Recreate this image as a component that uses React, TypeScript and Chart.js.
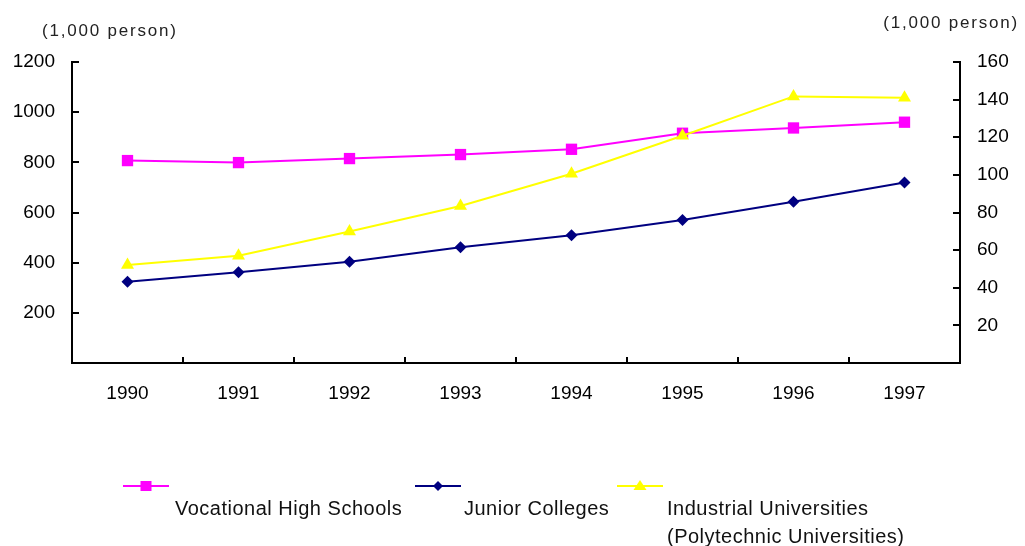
import React, { useEffect, useRef } from 'react';
import { Chart, registerables } from 'chart.js';

Chart.register(...registerables);

// ---- data ----
const years = ['1990', '1991', '1992', '1993', '1994', '1995', '1996', '1997'];
const vocational = [807, 799, 815, 831, 852, 916, 937, 960];
const junior = [324, 362, 404, 461, 509, 570, 643, 720];
const industrial = [52.1, 57.0, 69.9, 83.5, 100.6, 120.8, 141.7, 141.0];

const leftMax = 1200;
const leftStep = 200;
const rightMax = 160;
const rightStep = 20;
const unitLabel = '(1,000 person)';
const seriesLabels = [
  ['Vocational High Schools'],
  ['Junior Colleges'],
  ['Industrial Universities', '(Polytechnic Universities)'],
];

const FONT = "'Liberation Sans', Arial, Helvetica, sans-serif";
const MAGENTA = '#FF00FF';
const NAVY = '#000080';
const YELLOW = '#FFFF00';

type MarkerKind = 'square' | 'diamond' | 'triangle';

function drawMarker(ctx: CanvasRenderingContext2D, kind: MarkerKind, x: number, y: number, color: string) {
  ctx.save();
  ctx.fillStyle = color;
  ctx.beginPath();
  if (kind === 'square') {
    ctx.rect(x - 5.5, y - 5, 11, 10);
  } else if (kind === 'diamond') {
    ctx.moveTo(x, y - 5);
    ctx.lineTo(x + 5, y);
    ctx.lineTo(x, y + 5);
    ctx.lineTo(x - 5, y);
    ctx.closePath();
  } else {
    ctx.moveTo(x, y - 6);
    ctx.lineTo(x + 6.5, y + 4);
    ctx.lineTo(x - 6.5, y + 4);
    ctx.closePath();
  }
  ctx.fill();
  ctx.restore();
}

const legendLayout = [
  { x0: 123, x1: 169, y: 486, tx: 175, ty: 509, kind: 'square' as MarkerKind },
  { x0: 415, x1: 461, y: 486, tx: 464, ty: 509, kind: 'diamond' as MarkerKind },
  { x0: 617, x1: 663, y: 486, tx: 667, ty: 509, kind: 'triangle' as MarkerKind },
];

const framePlugin = {
  id: 'frameInward',
  afterDraw(chart: any) {
    const ctx: CanvasRenderingContext2D = chart.ctx;
    const { left, right, top, bottom } = chart.chartArea;
    const x = chart.scales.x;
    const y = chart.scales.y;
    const y1 = chart.scales.y1;
    ctx.save();
    ctx.strokeStyle = '#000';
    ctx.lineWidth = 2;
    ctx.lineCap = 'square';
    ctx.beginPath();
    ctx.moveTo(left, top);
    ctx.lineTo(left, bottom);
    ctx.lineTo(right, bottom);
    ctx.lineTo(right, top);
    ctx.stroke();
    ctx.lineCap = 'butt';
    ctx.beginPath();
    y.ticks.forEach((t: any) => {
      if (t.value === 0) return;
      const py = Math.round(y.getPixelForValue(t.value));
      ctx.moveTo(left, py);
      ctx.lineTo(left + 7, py);
    });
    y1.ticks.forEach((t: any) => {
      if (t.value === 0) return;
      const py = Math.round(y1.getPixelForValue(t.value));
      ctx.moveTo(right - 7, py);
      ctx.lineTo(right, py);
    });
    for (let i = 1; i < years.length; i++) {
      const px = Math.round((x.getPixelForValue(i - 1) + x.getPixelForValue(i)) / 2);
      ctx.moveTo(px, bottom);
      ctx.lineTo(px, bottom - 6);
    }
    ctx.stroke();

    // unit labels
    ctx.fillStyle = '#222';
    ctx.font = `17px ${FONT}`;
    (ctx as any).letterSpacing = '1.8px';
    ctx.textBaseline = 'middle';
    ctx.textAlign = 'left';
    ctx.fillText(unitLabel, 42, 31);
    ctx.textAlign = 'right';
    ctx.fillText(unitLabel, 1019, 23);
    (ctx as any).letterSpacing = '0px';

    // legend
    const ds = chart.data.datasets;
    legendLayout.forEach((L, i) => {
      const d = ds[i];
      ctx.strokeStyle = d.borderColor;
      ctx.lineWidth = 2;
      ctx.beginPath();
      ctx.moveTo(L.x0, L.y);
      ctx.lineTo(L.x1, L.y);
      ctx.stroke();
      drawMarker(ctx, L.kind, (L.x0 + L.x1) / 2, L.y, d.backgroundColor);
      ctx.fillStyle = '#111';
      ctx.font = `20px ${FONT}`;
      (ctx as any).letterSpacing = '0.5px';
      ctx.textAlign = 'left';
      ctx.textBaseline = 'middle';
      const lines: string[] = Array.isArray(d.label) ? d.label : [d.label];
      lines.forEach((ln, k) => ctx.fillText(ln, L.tx, L.ty + k * 28));
      (ctx as any).letterSpacing = '0px';
    });
    ctx.restore();
  },
};

export default function App() {
  const ref = useRef<HTMLCanvasElement | null>(null);
  useEffect(() => {
    document.body.style.margin = '0';
    const canvas = ref.current!;
    const chart = new Chart(canvas, {
      type: 'line',
      data: {
        labels: years,
        datasets: [
          {
            label: seriesLabels[0] as any,
            data: vocational,
            yAxisID: 'y',
            borderColor: MAGENTA,
            backgroundColor: MAGENTA,
            borderWidth: 2,
            pointStyle: 'rect',
            pointRadius: 8,
            pointBorderWidth: 0,
            tension: 0,
            order: 1,
          },
          {
            label: seriesLabels[1] as any,
            data: junior,
            yAxisID: 'y',
            borderColor: NAVY,
            backgroundColor: NAVY,
            borderWidth: 2,
            pointStyle: 'rectRot',
            pointRadius: 6,
            pointBorderWidth: 0,
            tension: 0,
            order: 2,
          },
          {
            label: seriesLabels[2] as any,
            data: industrial,
            yAxisID: 'y1',
            borderColor: YELLOW,
            backgroundColor: YELLOW,
            borderWidth: 2,
            pointStyle: 'triangle',
            pointRadius: 7.5,
            pointBorderWidth: 0,
            tension: 0,
            order: 0,
          },
        ],
      },
      options: {
        animation: false,
        responsive: false,
        devicePixelRatio: 1,
        layout: { padding: { top: 62, left: 0, right: 0, bottom: 0 } },
        plugins: { legend: { display: false }, tooltip: { enabled: false } },
        scales: {
          x: {
            type: 'category',
            offset: true,
            grid: { display: false, drawTicks: false },
            border: { display: false },
            ticks: { color: '#000', font: { size: 19, family: FONT }, padding: 19 },
            afterFit: (s: any) => { s.height = 183; },
          },
          y: {
            position: 'left',
            min: 0,
            max: leftMax,
            grid: { display: false, drawTicks: false },
            border: { display: false },
            ticks: {
              stepSize: leftStep,
              color: '#000',
              font: { size: 19, family: FONT },
              padding: 17,
              callback: (v: any) => (v === 0 ? '' : String(v)),
            },
            afterFit: (s: any) => { s.width = 72; },
          },
          y1: {
            position: 'right',
            min: 0,
            max: rightMax,
            grid: { display: false, drawTicks: false },
            border: { display: false },
            ticks: {
              stepSize: rightStep,
              color: '#000',
              font: { size: 19, family: FONT },
              padding: 17,
              callback: (v: any) => (v === 0 ? '' : String(v)),
            },
            afterFit: (s: any) => { s.width = 65; },
          },
        },
      } as any,
      plugins: [framePlugin],
    });
    return () => chart.destroy();
  }, []);
  return (
    <div style={{ position: 'absolute', left: 0, top: 0, width: 1025, height: 546, background: '#fff' }}>
      <canvas ref={ref} width={1025} height={546} style={{ display: 'block' }} />
    </div>
  );
}
